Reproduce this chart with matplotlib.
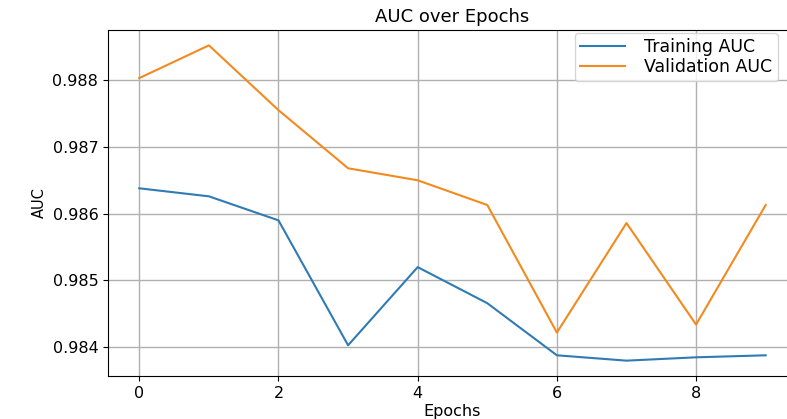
import matplotlib
matplotlib.use("Agg")
import matplotlib.pyplot as plt

# values
epochs = [0, 1, 2, 3, 4, 5, 6, 7, 8, 9]
train_auc = [0.98638, 0.98626, 0.98590, 0.98403, 0.98520, 0.98466, 0.98388, 0.98380, 0.98385, 0.98388]
val_auc = [0.98803, 0.98852, 0.98755, 0.98668, 0.98650, 0.98613, 0.98422, 0.98586, 0.98434, 0.98613]

fig = plt.figure(figsize=(7.87, 4.19), dpi=100)
# axes run a bit past the right edge, as in the (cropped) reference
ax = fig.add_axes([0.1372, 0.1026, 0.8755, 0.8258])

ax.plot(epochs, train_auc, color="#2f7bb4", linewidth=1.5, label="Training AUC")
ax.plot(epochs, val_auc, color="#f28a1e", linewidth=1.5, label="Validation AUC")

ax.set_xlim(-0.45, 9.45)
ax.set_ylim(0.98357, 0.98875)
ax.set_xticks([0, 2, 4, 6, 8])
ax.set_yticks([0.984, 0.985, 0.986, 0.987, 0.988])
ax.tick_params(labelsize=11.5)
ax.grid(True, color="#b0b0b0", linewidth=1.0)

ax.set_title("AUC over Epochs", fontsize=13, pad=6)
ax.set_xlabel("Epochs", fontsize=11.5, labelpad=2)
ax.set_ylabel("AUC", fontsize=10.5)

ax.legend(
    loc="upper left",
    bbox_to_anchor=(575 / 787, 1 - 33 / 419),
    bbox_transform=fig.transFigure,
    borderaxespad=0,
    fontsize=12.5,
    handlelength=2.6,
    handletextpad=1.1,
    labelspacing=0.1,
    borderpad=0.3,
)

fig.savefig("out.png", dpi=100)
